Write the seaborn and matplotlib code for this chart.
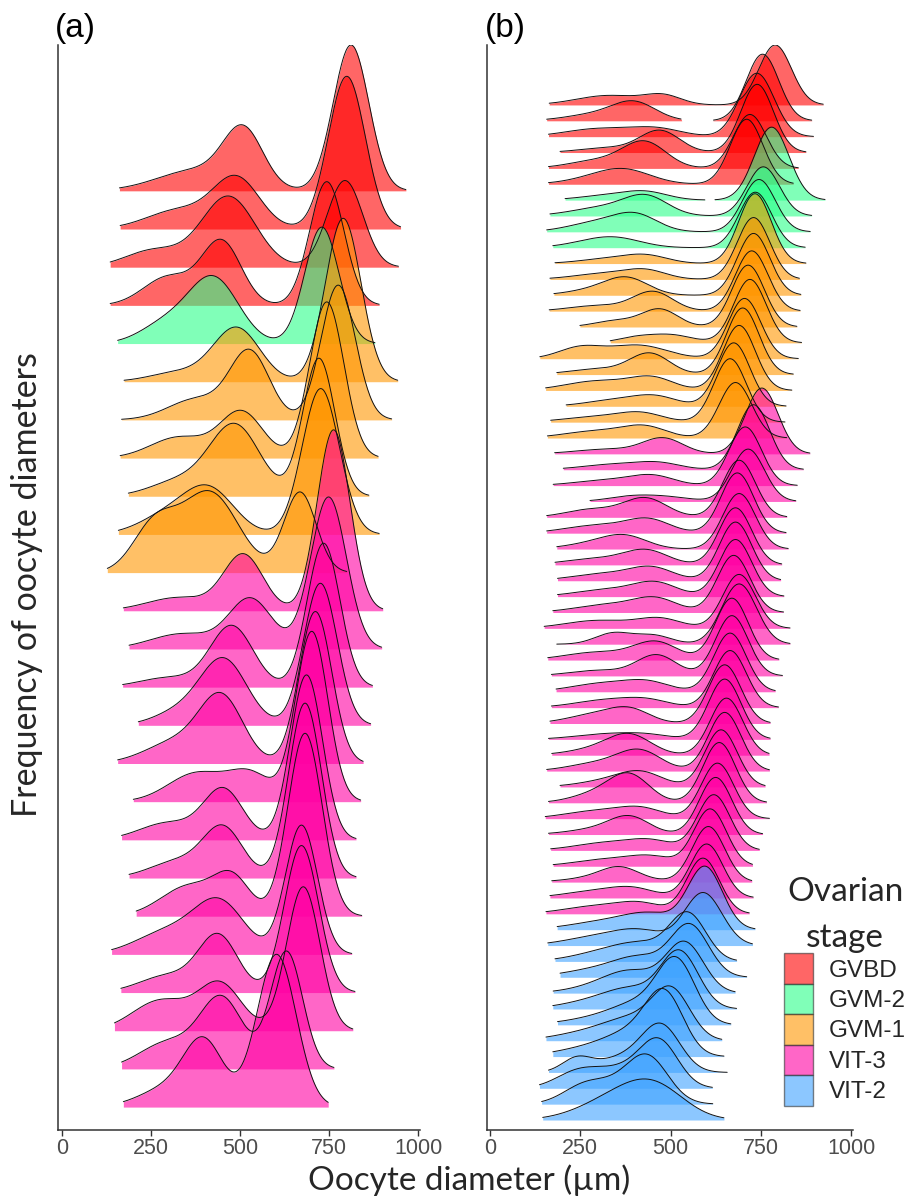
import numpy as np
import pandas as pd
import matplotlib
matplotlib.use("Agg")
import matplotlib.pyplot as plt
import seaborn as sns
from matplotlib.patches import Patch

sns.set_theme(style="white")
plt.rcParams["font.family"] = ["Liberation Sans", "DejaVu Sans"]

STAGES = ["GVBD", "GVM-2", "GVM-1", "VIT-3", "VIT-2"]
STAGE_COLOURS = {"GVBD": "#FF0000", "GVM-2": "#2BFF8A", "GVM-1": "#FF9600",
                 "VIT-3": "#FF00A3", "VIT-2": "#3FA3FF"}
FILL_ALPHA = 0.6
TICKS = [0, 250, 500, 750, 1000]

# ---- panel (a): one ridge per female, top to bottom -------------------------
# ridge heights are given in units of the ridge spacing
A_STAGE = ["GVBD"] * 4 + ["GVM-2"] + ["GVM-1"] * 6 + ["VIT-3"] * 14
A_RANGE = [(162, 966), (164, 951), (136, 945), (136, 891), (157, 879),
           (175, 943), (168, 926), (164, 888), (187, 862), (159, 891), (128, 800),
           (173, 901), (189, 898), (171, 872), (215, 867), (157, 846), (201, 839),
           (168, 826), (189, 826), (209, 842), (140, 814), (166, 823), (148, 817),
           (168, 764), (173, 748)]
# (mode, spread, height) of the small-oocyte tail, the mid cohort and the leading cohort
A_TAIL = [(380, 110, 0.55), (330, 90, 0.50), (260, 80, 0.45), (300, 70, 0.75), (290, 70, 0.50),
          (330, 80, 0.25), (380, 80, 0.55), (330, 80, 0.55), (330, 80, 0.40), (300, 80, 0.50),
          (260, 60, 1.20),
          (330, 90, 0.35), (340, 90, 0.40), (300, 80, 0.25), (330, 70, 0.35), (330, 90, 0.60),
          (380, 80, 0.75), (300, 80, 0.45), (330, 80, 0.45), (360, 80, 0.80), (300, 90, 0.60),
          (300, 80, 0.45), (280, 80, 0.80), (300, 80, 0.70), (300, 80, 0.50)]
A_MID = [(510, 55, 1.45), (491, 65, 1.30), (468, 75, 1.85), (449, 55, 1.65), (426, 70, 1.70),
         (491, 65, 1.40), (528, 55, 1.75), (505, 60, 1.20), (486, 70, 1.85), (416, 70, 1.10),
         (415, 80, 2.10),
         (510, 55, 1.45), (530, 60, 1.30), (477, 60, 1.60), (455, 65, 1.70), (450, 60, 1.60),
         (530, 60, 0.70), (454, 55, 1.30), (454, 55, 1.25), (480, 50, 0.90), (444, 70, 1.30),
         (440, 55, 1.45), (445, 60, 1.20), (450, 60, 1.80), (400, 55, 1.60)]
A_LEAD = [(812, 50, 3.82), (800, 52, 4.00), (795, 50, 2.27), (744, 48, 3.24), (730, 48, 3.05),
          (790, 50, 4.28), (776, 48, 3.53), (744, 48, 4.09), (722, 45, 3.61), (727, 52, 3.82),
          (669, 45, 2.10),
          (763, 46, 4.74), (749, 50, 3.98), (735, 46, 3.77), (726, 47, 3.72), (712, 46, 3.98),
          (702, 45, 4.45), (687, 45, 4.32), (683, 46, 4.58), (683, 48, 4.79), (673, 45, 3.38),
          (673, 48, 3.85), (678, 47, 3.77), (631, 45, 3.07), (603, 55, 4.00)]

# ---- panel (b) ---------------------------------------------------------------
B_STAGE = ["GVBD"] * 6 + ["GVM-2"] * 4 + ["GVM-1"] * 12 + ["VIT-3"] * 30 + ["VIT-2"] * 13
B_RANGE = [(164, 923), (157, 891), (162, 896), (194, 875), (162, 854), (162, 840),
           (208, 928), (166, 891), (157, 887), (174, 873),
           (180, 875), (166, 857), (177, 861), (164, 859), (249, 850), (333, 863),
           (138, 854), (185, 840), (154, 836), (211, 820), (168, 817), (159, 822),
           (179, 886), (203, 868), (175, 851), (277, 847), (157, 822), (157, 820),
           (185, 826), (180, 808), (187, 805), (187, 814), (174, 813), (150, 831),
           (185, 831), (160, 800), (170, 810), (183, 790), (170, 799), (166, 776),
           (162, 776), (171, 773), (157, 774), (194, 762), (162, 766), (153, 774),
           (162, 755), (168, 746), (175, 727), (171, 725), (166, 729), (155, 718),
           (186, 734), (160, 727), (180, 683), (194, 711), (175, 679), (174, 683),
           (187, 667), (155, 642), (174, 648), (162, 657), (137, 616), (143, 617),
           (146, 648)]
# diameter classes with no oocytes in two females
B_GAPS = {1: (531, 619), 6: (596, 623)}
B_TAIL = [(330, 90, 0.60), (290, 80, 0.40), (300, 90, 0.50), (330, 80, 0.30), (300, 80, 0.50),
          (330, 90, 0.55),
          (330, 80, 0.30), (320, 90, 0.55), (300, 80, 0.60), (300, 80, 0.40),
          (330, 80, 0.30), (330, 90, 0.40), (280, 70, 0.30), (300, 80, 0.35), (350, 60, 0.40),
          (400, 50, 0.30), (250, 60, 0.70), (300, 80, 0.35), (300, 90, 0.60), (350, 80, 0.40),
          (300, 90, 0.35), (300, 90, 0.45),
          (330, 90, 0.30), (350, 90, 0.35), (330, 90, 0.35), (380, 60, 0.25), (280, 70, 0.50),
          (300, 90, 0.50), (300, 80, 0.40), (300, 90, 0.40), (320, 90, 0.45), (330, 90, 0.45),
          (330, 90, 0.50), (300, 90, 0.50), (342, 50, 0.70), (300, 90, 0.50), (300, 80, 0.35),
          (320, 90, 0.55), (330, 90, 0.50), (300, 80, 0.60), (330, 90, 0.35), (300, 80, 0.40),
          (300, 80, 0.50), (330, 80, 0.40), (300, 70, 0.60), (300, 90, 0.50), (300, 80, 0.35),
          (330, 90, 0.50), (330, 90, 0.45), (330, 90, 0.40), (300, 90, 0.45), (300, 90, 0.50),
          (330, 100, 0.55), (300, 90, 0.55), (330, 90, 0.65), (300, 90, 0.50), (330, 90, 0.55),
          (300, 90, 0.55), (330, 100, 0.55), (300, 100, 0.65), (300, 100, 0.65), (240, 40, 0.80),
          (240, 60, 0.90), (260, 60, 1.00), (300, 90, 0.60)]
B_MID = [(480, 50, 0.55), (400, 60, 1.10), (460, 70, 0.50), (471, 55, 1.35), (429, 60, 1.60),
         (380, 70, 0.50),
         (434, 60, 0.45), (434, 60, 1.10), (406, 60, 0.95), (360, 70, 0.35),
         (434, 60, 0.45), (434, 55, 0.45), (379, 60, 1.05), (452, 55, 1.20), (471, 50, 1.10),
         (500, 60, 0.50), (410, 80, 0.85), (443, 55, 1.30), (450, 60, 0.75), (460, 60, 0.55),
         (420, 60, 0.50), (430, 60, 0.65),
         (480, 55, 0.95), (470, 60, 0.35), (452, 60, 0.55), (480, 70, 0.30), (430, 60, 1.20),
         (440, 60, 0.80), (378, 60, 0.65), (434, 60, 0.85), (450, 60, 0.75), (460, 60, 0.80),
         (460, 60, 0.80), (470, 60, 0.60), (453, 50, 0.55), (460, 60, 1.10), (462, 55, 1.30),
         (440, 60, 0.50), (440, 60, 0.35), (390, 55, 0.70), (440, 60, 0.20), (388, 60, 1.15),
         (416, 60, 1.20), (420, 60, 0.80), (388, 55, 1.60), (420, 60, 0.55), (388, 55, 1.00),
         (450, 60, 0.50), (450, 60, 0.50), (360, 50, 0.60), (400, 60, 0.45), (420, 60, 0.55),
         (450, 70, 0.80), (420, 70, 0.80), (430, 70, 0.80), (420, 70, 1.10), (400, 70, 1.00),
         (400, 70, 1.00), (420, 70, 1.00), (400, 70, 1.00), (400, 70, 1.10), (380, 80, 1.00),
         (370, 80, 1.20), (380, 80, 1.20), (400, 90, 1.30)]
B_LEAD = [(790, 45, 3.78), (755, 45, 4.20), (739, 48, 4.00), (740, 45, 4.30), (720, 45, 3.40),
          (711, 45, 4.10),
          (780, 48, 4.60), (757, 45, 3.10), (745, 45, 3.30), (735, 45, 3.50),
          (734, 45, 4.40), (730, 45, 3.90), (730, 45, 3.90), (725, 45, 3.80), (715, 45, 3.90),
          (720, 45, 4.00), (705, 45, 3.80), (700, 45, 4.20), (690, 45, 4.10), (675, 45, 4.00),
          (665, 45, 4.00), (680, 45, 3.50),
          (753, 45, 4.15), (730, 45, 4.10), (707, 45, 3.70), (715, 45, 3.30), (690, 45, 3.60),
          (685, 45, 3.80), (690, 45, 3.50), (680, 45, 3.60), (680, 45, 3.70), (680, 45, 3.60),
          (675, 45, 3.60), (690, 45, 3.40), (690, 48, 3.80), (670, 45, 3.90), (670, 45, 3.80),
          (665, 45, 3.70), (665, 45, 3.60), (650, 45, 3.70), (650, 45, 3.80), (655, 45, 3.60),
          (650, 45, 3.70), (640, 45, 3.60), (635, 45, 3.80), (630, 45, 3.50), (625, 45, 3.60),
          (620, 45, 3.50), (610, 45, 3.60), (605, 45, 3.50), (600, 45, 3.40), (590, 45, 3.50),
          (596, 48, 3.90), (591, 52, 3.30), (549, 50, 2.90), (554, 52, 3.20), (540, 52, 3.10),
          (526, 52, 3.50), (517, 52, 3.80), (503, 52, 3.00), (485, 52, 3.60), (476, 52, 2.60),
          (470, 52, 2.60), (440, 55, 2.20), (470, 80, 1.30)]


def ridge_height(x, parts):
    y = np.zeros_like(x)
    for mu, sd, h in parts:
        y += h * np.exp(-0.5 * ((x - mu) / sd) ** 2)
    return y


def build_ridges(stages, ranges, tails, mids, leads, gaps):
    rows = []
    n = len(stages)
    for i in range(n):
        lo, hi = ranges[i]
        x = np.linspace(lo, hi, 360)
        h = ridge_height(x, [tails[i], mids[i], leads[i]])
        seg = np.zeros(len(x), dtype=int)
        if i in gaps:
            g0, g1 = gaps[i]
            inside = (x > g0) & (x < g1)
            h[inside] = 0.0
            seg[x >= g1] = 1
            keep = ~inside
        else:
            keep = np.ones(len(x), bool)
        rows.append(pd.DataFrame({"ridge": i, "stage": stages[i], "base": n - 1 - i,
                                  "diameter": x, "height": h, "segment": seg,
                                  "outline": keep}))
    return pd.concat(rows, ignore_index=True)


def draw_panel(ax, df, xlim, ylim):
    for rid, g in df.groupby("ridge", sort=True):
        colour = STAGE_COLOURS[g["stage"].iloc[0]]
        base = g["base"].iloc[0]
        ax.fill_between(g["diameter"], base, base + g["height"], color=colour,
                        alpha=FILL_ALPHA, linewidth=0, zorder=2)
        line = g[g["outline"]].assign(top=lambda d: d["base"] + d["height"])
        for _, s in line.groupby("segment"):
            sns.lineplot(data=s, x="diameter", y="top", ax=ax, color="#111111",
                         linewidth=0.7, estimator=None, sort=False, zorder=3)
    ax.set_xlim(*xlim)
    ax.set_ylim(*ylim)
    ax.set_xticks(TICKS)
    ax.set_xticklabels([str(t) for t in TICKS])
    ax.set_yticks([])
    ax.set_xlabel("")
    ax.set_ylabel("")
    for side in ("top", "right"):
        ax.spines[side].set_visible(False)
    for side in ("left", "bottom"):
        ax.spines[side].set_color("#333333")
        ax.spines[side].set_linewidth(1.1)
    ax.tick_params(axis="x", length=4, width=1, color="#333333", labelcolor="#4D4D4D",
                   labelsize=15.5, pad=2, bottom=True)


panel_a = build_ridges(A_STAGE, A_RANGE, A_TAIL, A_MID, A_LEAD, {})
panel_b = build_ridges(B_STAGE, B_RANGE, B_TAIL, B_MID, B_LEAD, B_GAPS)

W, H = 906, 1198
fig = plt.figure(figsize=(W / 100, H / 100), dpi=100)
ax_a = fig.add_axes([58 / W, 1 - 1130 / H, (420 - 58) / W, (1130 - 45) / H])
ax_b = fig.add_axes([487 / W, 1 - 1130 / H, (853 - 487) / W, (1130 - 45) / H])

draw_panel(ax_a, panel_a, (-10.4, 1005.6), (-0.6, 27.82))
draw_panel(ax_b, panel_b, (-8.3, 1005.5), (-0.63, 67.78))

fig.text(55 / W, 1 - 29 / H, "(a)", fontsize=24, va="center", ha="left", color="black")
fig.text(485 / W, 1 - 29 / H, "(b)", fontsize=24, va="center", ha="left", color="black")

label_font = ["Lato", "DejaVu Sans"]
fig.text(27 / W, 1 - 585 / H, "Frequency of oocyte diameters", rotation=90,
         fontsize=24.5, family=label_font, ha="center", va="center")
fig.text(469 / W, 1 - 1180 / H, "Oocyte diameter (\u00b5m)", fontsize=24,
         family=label_font, ha="center", va="center")

handles = [Patch(facecolor=STAGE_COLOURS[s], alpha=FILL_ALPHA, edgecolor="#333333",
                 linewidth=1.0) for s in STAGES]
leg = fig.legend(handles, STAGES, loc="upper left", bbox_to_anchor=(784 / W, 1 - 877 / H),
                 frameon=False, fontsize=17.5, title="Ovarian\nstage",
                 title_fontproperties={"family": label_font, "size": 24},
                 handlelength=1.2, handleheight=1.55, handletextpad=0.66,
                 labelspacing=0.0, borderpad=0, borderaxespad=0, alignment="center")
leg.get_title().set_multialignment("center")
leg.get_title().set_linespacing(1.68)

fig.savefig("out.png", dpi=100)
